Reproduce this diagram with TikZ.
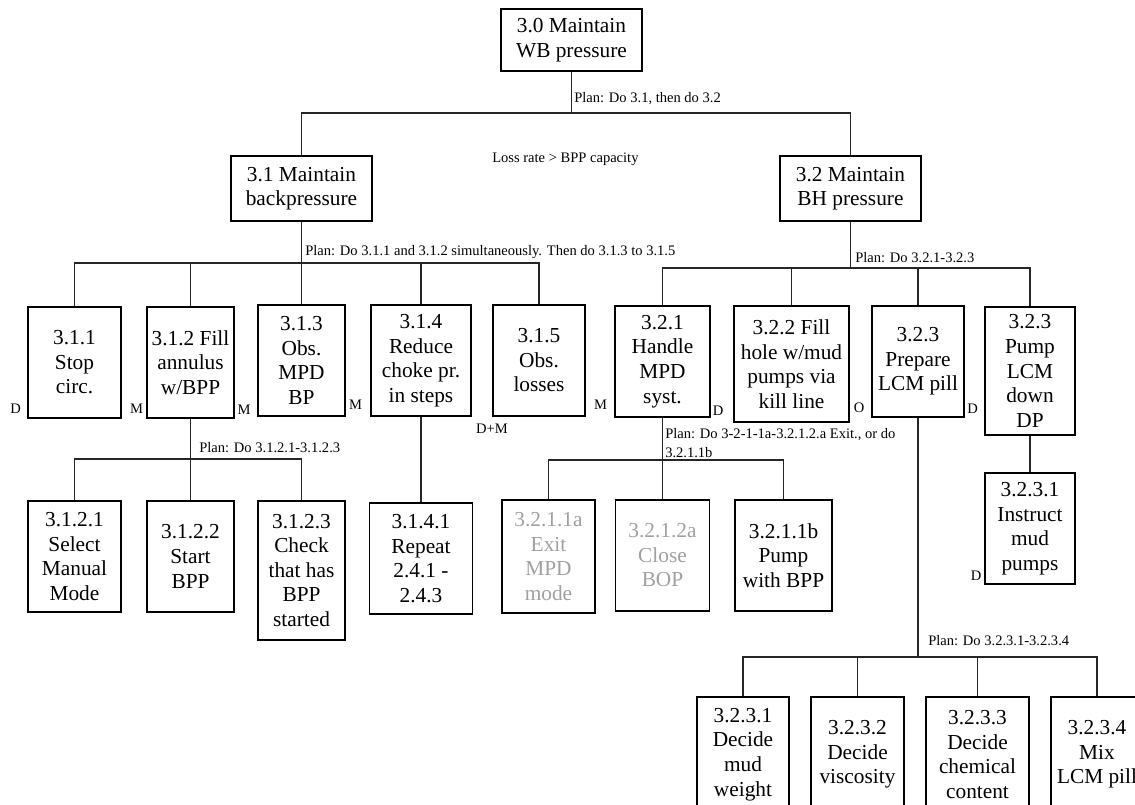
\documentclass[tikz,border=0pt]{standalone}
\usepackage{fontspec}
\setmainfont{Liberation Serif}
\definecolor{greytext}{HTML}{A0A0A0}
\tikzset{
  box/.style={draw=black, line width=0.8pt, inner sep=0pt, align=center,
              font=\fontsize{16}{18.4}\selectfont},
  gbox/.style={box, text=greytext},
  sz/.style 2 args={minimum width=#1*0.75pt, minimum height=#2*0.75pt},
  lbl/.style={font=\fontsize{10.9}{14.25}\selectfont, inner sep=0pt},
  conn/.style={draw=black!85, line width=0.8pt},
}
\begin{document}
\begin{tikzpicture}[x=0.75pt, y=-0.75pt]
\useasboundingbox (0,0) rectangle (1135,805);
\clip (0,0) rectangle (1135,805);
% level 0/1
\node[box, sz={141}{62}] (n30) at (571.5,40) {3.0 Maintain\\WB pressure};
\node[box, sz={141}{65}] (n31) at (301.5,188.5) {3.1 Maintain\\backpressure};
\node[box, sz={141}{65}] (n32) at (850.5,188.5) {3.2 Maintain\\BH pressure};
% level 2
\node[box, sz={93}{111}] (n311) at (74.5,362.5) {3.1.1\\Stop\\circ.};
\node[box, sz={87}{111}] (n312) at (190.5,362.5) {3.1.2 Fill\\annulus\\w/BPP};
\node[box, sz={87}{111}] (n313) at (301.5,360.5) {3.1.3\\Obs.\\MPD\\BP};
\node[box, sz={100}{111}] (n314) at (421,360.5) {3.1.4\\Reduce\\choke pr.\\in steps};
\node[box, sz={92}{111}] (n315) at (539,360.5) {3.1.5\\Obs.\\losses};
\node[box, sz={95}{111}] (n321) at (662.5,361.5) {3.2.1\\Handle\\MPD\\syst.};
\node[box, sz={115}{116}] (n322) at (791.5,364) {3.2.2 Fill\\hole w/mud\\pumps via\\kill line};
\node[box, sz={92}{111}] (n323) at (918,361.5) {3.2.3\\Prepare\\LCM pill};
\node[box, sz={90}{128}] (n324) at (1030,371) {3.2.3\\Pump\\LCM\\down\\DP};
% level 3
\node[box, sz={93}{111}] (n3121) at (74.5,556.5) {3.1.2.1\\Select\\Manual\\Mode};
\node[box, sz={87}{111}] (n3122) at (190.5,556.5) {3.1.2.2\\Start\\BPP};
\node[box, sz={87}{139}] (n3123) at (301.5,570.5) {3.1.2.3\\Check\\that has\\BPP\\started};
\node[box, sz={103}{111}] (n3141) at (421,558.5) {3.1.4.1\\Repeat\\2.4.1 -\\2.4.3};
\node[gbox, sz={93}{113}] (n3211a) at (548.5,556.5) {3.2.1.1a\\Exit\\MPD\\mode};
\node[gbox, sz={94}{111}] (n3212a) at (662.5,555.5) {3.2.1.2a\\Close\\BOP};
\node[box, sz={97}{111}] (n3211b) at (783.5,555.5) {3.2.1.1b\\Pump\\with BPP};
\node[box, sz={90}{111}] (n3241) at (1030,528.5) {3.2.3.1\\Instruct\\mud\\pumps};
% level 4
\node[box, sz={92}{115}] (n3231) at (743,754.5) {3.2.3.1\\Decide\\mud\\weight};
\node[box, sz={93}{115}] (n3232) at (857.5,754.5) {3.2.3.2\\Decide\\viscosity};
\node[box, sz={103}{115}] (n3233) at (977.5,754.5) {3.2.3.3\\Decide\\chemical\\content};
\node[box, sz={92}{115}] (n3234) at (1097,754.5) {3.2.3.4\\Mix\\LCM pill};
% junctions
\coordinate (j1) at (572,113);
\coordinate (j2) at (301,263);
\coordinate (j3) at (851,268);
\coordinate (j4) at (191,459);
\coordinate (j5) at (663,460);
\coordinate (j6) at (917,657);
% connectors
\draw[conn] (n30.south) -- (n30.south |- j1);
\draw[conn] (n31.north) |- (j1) -| (n32.north);
\draw[conn] (n31.south) -- (n313.north);
\draw[conn] (n311.north) |- (j2) -| (n315.north);
\draw[conn] (n312.north) -- (n312.north |- j2);
\draw[conn] (n314.north) -- (n314.north |- j2);
\draw[conn] (n32.south) -- (n32.south |- j3);
\draw[conn] (n321.north) |- (j3) -| (n324.north);
\draw[conn] (n322.north) -- (n322.north |- j3);
\draw[conn] (n323.north) -- (n323.north |- j3);
\draw[conn] (n312.south) -- (n3122.north);
\draw[conn] (n3121.north) |- (j4) -| (n3123.north);
\draw[conn] (n314.south) -- (n3141.north);
\draw[conn] (n321.south) -- (n3212a.north);
\draw[conn] (n3211a.north) |- (j5) -| (n3211b.north);
\draw[conn] (n323.south) -- (n323.south |- j6);
\draw[conn] (n3231.north) |- (j6) -| (n3234.north);
\draw[conn] (n3232.north) -- (n3232.north |- j6);
\draw[conn] (n3233.north) -- (n3233.north |- j6);
\draw[conn] (n324.south) -- (n3241.north);
% plan labels
\node[lbl, anchor=base west] (p0) at (574,103) {Plan: Do 3.1, then do 3.2};
\node[lbl, anchor=base west] (loss) at (492,163) {Loss rate > BPP capacity};
\node[lbl, anchor=base west] (p1) at (305,256) {Plan: Do 3.1.1 and 3.1.2 simultaneously. Then do 3.1.3 to 3.1.5};
\node[lbl, anchor=base west] (p2) at (855,263) {Plan: Do 3.2.1-3.2.3};
\node[lbl, anchor=base west] (p3) at (199,452) {Plan: Do 3.1.2.1-3.1.2.3};
\node[lbl, anchor=base west] (p4a) at (665,438) {Plan: Do 3-2-1-1a-3.2.1.2.a Exit., or do};
\node[lbl, anchor=base west] (p4b) at (665,457) {3.2.1.1b};
\node[lbl, anchor=base west] (p5) at (928,645) {Plan: Do 3.2.3.1-3.2.3.4};
% role letters
\node[lbl, anchor=base] (r1) at (15.5,413) {D};
\node[lbl, anchor=base] (r2) at (136.5,414) {M};
\node[lbl, anchor=base] (r3) at (244,415) {M};
\node[lbl, anchor=base] (r4) at (355.5,410) {M};
\node[lbl, anchor=base] (r5) at (492,433) {D+M};
\node[lbl, anchor=base] (r6) at (600.5,410) {M};
\node[lbl, anchor=base] (r7) at (718,416) {D};
\node[lbl, anchor=base] (r8) at (859,412) {O};
\node[lbl, anchor=base] (r9) at (972.5,413) {D};
\node[lbl, anchor=base] (r10) at (976,580) {D};
\end{tikzpicture}
\end{document}
